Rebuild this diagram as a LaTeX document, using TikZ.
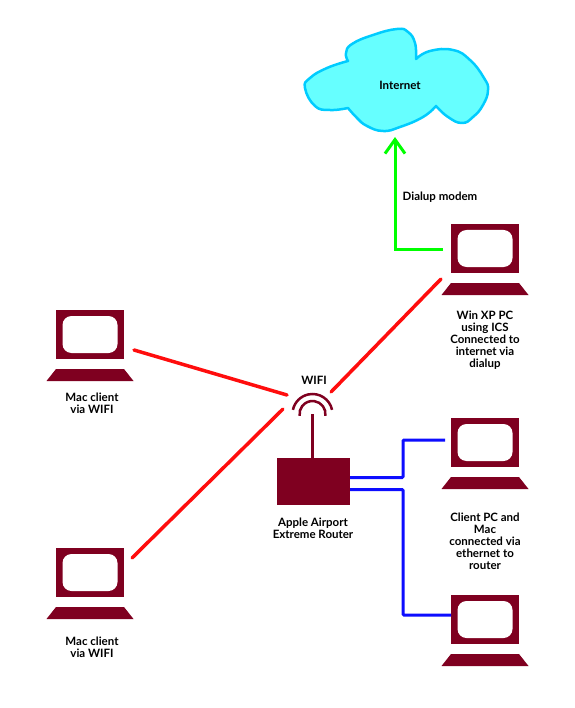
\documentclass[tikz,border=0pt]{standalone}
\usepackage{fontspec}
\setmainfont{Lato}
\usetikzlibrary{arrows.meta}
\definecolor{maroon}{HTML}{7F0020}
\definecolor{cloudfill}{HTML}{66FFFF}
\definecolor{cloudline}{HTML}{00CCFF}
\tikzset{
  label/.style={font=\fontsize{11.5}{12}\selectfont\bfseries,align=center,inner sep=0pt},
  wifiline/.style={draw=red!95!white,line width=3.5pt,line cap=round},
  dialline/.style={draw=green,line width=3pt},
  lanline/.style={draw=blue!95!white,line width=3pt},
  antenna/.style={draw=maroon,line width=2.5pt},
  pics/computer/.style={code={
    \node[fill=maroon,minimum width=68pt,minimum height=49pt,inner sep=0pt] (-monitor) at (0,0) {};
    \fill[white,rounded corners=9pt] (-27.5,-18.5) rectangle (27.5,18.5);
    \fill[maroon] (-34,34.5) -- (34,34.5) -- (43.5,46.5) -- (-43.5,46.5) -- cycle;
  }}
}
\begin{document}
\begin{tikzpicture}[x=1pt,y=-1pt]
\useasboundingbox (0,0) rectangle (574,708);
% cloud
\draw[fill=cloudfill,draw=cloudline,line width=2.5pt,line join=round]
  plot[smooth,tension=0.8] coordinates {(348,61) (346,53) (352,44) (373,35) (397,29) (408,32) (415,43) (416,59)}
  -- plot[smooth,tension=0.8] coordinates {(416,59) (430,51) (453,50) (470,60) (484,78) (488,90) (483,105) (473,117) (462,123) (448,117) (436,106)}
  -- plot[smooth,tension=0.8] coordinates {(436,106) (423,117) (400,127) (383,131) (367,126) (357,118) (348,108)}
  -- plot[smooth,tension=0.8] coordinates {(348,108) (330,110) (315,106) (305,88) (310,78) (327,68) (348,61)} -- cycle;
\node[label] (internet) at (400,85) {Internet};
% computers
\foreach \name/\x/\y in {winpc/485/248.5,macone/90/334.5,mactwo/90/572.5,clientone/485/442.5,clienttwo/485/619.5}
  \pic (\name) at (\x,\y) {computer};
% router
\node[fill=maroon,minimum width=73pt,minimum height=47pt,inner sep=0pt] (router) at (313.5,481.5) {};
\coordinate (aerial) at (312.5,414);
\draw[antenna] (router.north -| aerial) -- (aerial);
\draw[antenna] ([shift={(12:20pt)}]aerial) arc[start angle=12,end angle=168,radius=20pt];
\draw[antenna] ([shift={(-8:13pt)}]aerial) arc[start angle=-8,end angle=188,radius=13pt];
% connection ends
\coordinate (winend) at (441,279);
\coordinate (winhub) at (331,392);
\coordinate (oneend) at (134,350);
\coordinate (onehub) at (287,395);
\coordinate (twoend) at (132,558);
\coordinate (twohub) at (283,409);
\coordinate (dialend) at (443,250);
\coordinate (dialtip) at (395,137);
\coordinate (lanone) at (445,440);
\coordinate (lantwo) at (451,615);
% connections
\draw[wifiline] (winend) -- (winhub);
\draw[wifiline] (oneend) -- (onehub);
\draw[wifiline] (twoend) -- (twohub);
\draw[dialline,-{Straight Barb[length=14pt,width=20pt]}] (dialend) -| (dialtip);
\draw[lanline,rounded corners=1pt] (router.east |- 0,477.5) -- (403,477.5) |- (lanone);
\draw[lanline,rounded corners=1pt] (router.east |- 0,489.5) -- (403,489.5) |- (lantwo);
% labels
\node[label] (dialup) at (440,197) {Dialup modem};
\node[label,below] (winlabel) at (485,310.5) {Win XP PC\\using ICS\\Connected to\\internet via\\dialup};
\node[label,below] (onelabel) at (92,392.5) {Mac client\\via WIFI};
\node[label,below] (twolabel) at (92,636.5) {Mac client\\via WIFI};
\node[label] (wifi) at (314,380) {WIFI};
\node[label,below] (routerlabel) at (313,517.5) {Apple Airport\\Extreme Router};
\node[label,below] (clientlabel) at (485,512.5) {Client PC and\\Mac\\connected via\\ethernet to\\router};
\end{tikzpicture}
\end{document}
